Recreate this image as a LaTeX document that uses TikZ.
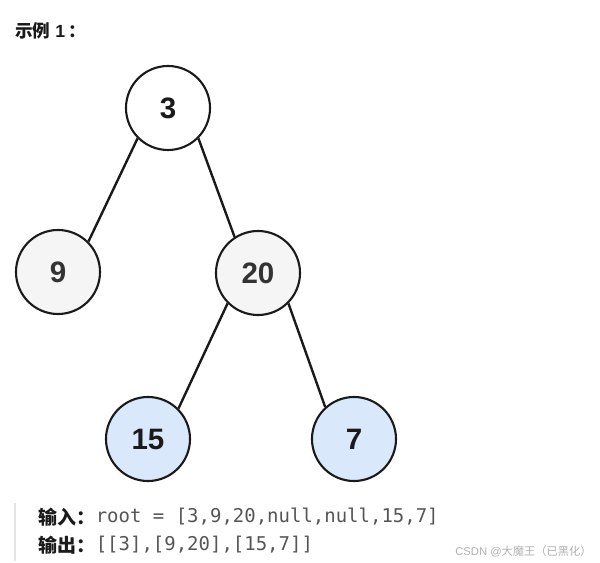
\documentclass[tikz,border=0pt]{standalone}
\usepackage{fontspec}
\setmainfont{Liberation Sans}
\setmonofont{DejaVu Sans Mono}
\newfontfamily\cjk{Noto Sans CJK SC}
\usepackage{xcolor}
\usepackage{tikz}
\usetikzlibrary{positioning}
\definecolor{nodegray}{HTML}{F5F5F5}
\definecolor{nodeblue}{HTML}{DAE8FC}
\definecolor{ink}{HTML}{1A1A1A}
\definecolor{softink}{HTML}{333333}
\definecolor{codegray}{HTML}{555555}
\definecolor{bargray}{HTML}{E3E3E3}
\definecolor{markgray}{HTML}{B0B0B0}
\tikzset{
  treenode/.style={
    circle, draw=ink, fill=#1, line width=1.5pt,
    minimum size=2.1cm, inner sep=0pt,
    font=\fontsize{21}{21}\selectfont\bfseries, text=ink
  },
  treenode/.default=white,
  treeedge/.style={
    line width=1.7pt, draw=ink
  },
  headnode/.style={
    anchor=west, inner sep=0pt, font=\fontsize{12.5}{13}\selectfont\bfseries, text=ink
  },
  codenode/.style={
    anchor=west, inner sep=0pt, font=\fontsize{13.5}{14}\selectfont
  },
}

\begin{document}
\begin{tikzpicture}[x=0.025cm, y=-0.025cm]
  \useasboundingbox (0,0) rectangle (600,563);
  % tree
  \node[treenode] (n3) at (168,108) {3};
  \node[treenode=nodegray, text=softink] (n9) at (58,272) {9};
  \node[treenode=nodegray, text=softink] (n20) at (258,273) {20};
  \node[treenode=nodeblue] (n15) at (148,439) {15};
  \node[treenode=nodeblue] (n7) at (354,439) {7};
  \draw[treeedge] (n3.south west) -- (n9.north east);
  \draw[treeedge] (n3.south east) -- (n20.123);
  \draw[treeedge] (n20.south west) -- (n15.north east);
  \draw[treeedge] (n20.south east) -- (n7.132);

  % caption
  \node[headnode] (title) at (15,31) {{\cjk\bfseries 示例} 1\,{\cjk\bfseries ：}};

  % input / output
  \draw[bargray, line width=1.4pt] (15,503) coordinate (bartop) -- (15,561) coordinate (barend);
  \node[codenode] (inlabel) at (38,517) {{\cjk\bfseries\color{ink} 输入：}};
  \node[codenode, right=0pt of inlabel, text=codegray] (incode) {\ttfamily root = [3,9,20,null,null,15,7]};
  \node[codenode] (outlabel) at (38,545) {{\cjk\bfseries\color{ink} 输出：}};
  \node[codenode, right=0pt of outlabel, text=codegray] (outcode) {\ttfamily [[3],[9,20],[15,7]]};
  \node[anchor=east, inner sep=0pt, text=markgray, font=\fontsize{8}{9}\selectfont] (mark) at (592,551) {CSDN @{\cjk 大魔王（已黑化）}};
\end{tikzpicture}
\end{document}
